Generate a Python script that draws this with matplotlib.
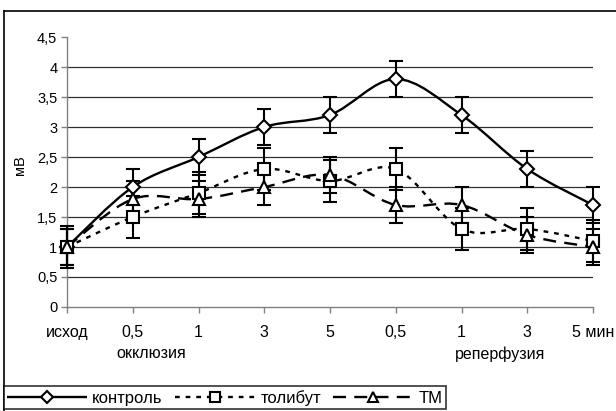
import numpy as np
import matplotlib.pyplot as plt
from matplotlib.path import Path
from matplotlib.patches import PathPatch
from matplotlib.lines import Line2D

plt.rcParams['font.family'] = ['Liberation Sans', 'DejaVu Sans']
plt.rcParams['font.size'] = 10.5

# данные
categories = ['исход', '0,5', '1', '3', '5', '0,5', '1', '3', '5 мин']
control = [1.0, 2.0, 2.5, 3.0, 3.2, 3.8, 3.2, 2.3, 1.7]
control_err = [0.3, 0.3, 0.3, 0.3, 0.3, 0.3, 0.3, 0.3, 0.3]
tolibut = [1.0, 1.5, 1.9, 2.3, 2.1, 2.3, 1.3, 1.3, 1.1]
tolibut_err = [0.35, 0.35, 0.35, 0.35, 0.35, 0.35, 0.35, 0.35, 0.35]
tm = [1.0, 1.8, 1.8, 2.0, 2.2, 1.7, 1.7, 1.2, 1.0]
tm_err = [0.3, 0.3, 0.3, 0.3, 0.3, 0.3, 0.3, 0.3, 0.3]
yticks = [0, 0.5, 1, 1.5, 2, 2.5, 3, 3.5, 4, 4.5]
ytick_labels = ['0', '0,5', '1', '1,5', '2', '2,5', '3', '3,5', '4', '4,5']


def smooth_path(x, y):
    # сглаженная линия как в Excel (кривые Безье)
    p = np.column_stack([x, y]).astype(float)
    n = len(p)
    verts = [p[0]]
    codes = [Path.MOVETO]
    for i in range(n - 1):
        p0 = p[i - 1] if i > 0 else p[i]
        p3 = p[i + 2] if i + 2 < n else p[i + 1]
        c1 = p[i] + (p[i + 1] - p0) / 6
        c2 = p[i + 1] - (p3 - p[i]) / 6
        verts += [c1, c2, p[i + 1]]
        codes += [Path.CURVE4] * 3
    return Path(verts, codes)


fig = plt.figure(figsize=(6.16, 4.11), dpi=100)
ax = fig.add_axes([67 / 616, 1 - 307 / 411, (593 - 67) / 616, 270 / 411])

x = np.arange(len(categories))
series = [
    (control, control_err, 'D', (0, ()), 7.5),
    (tolibut, tolibut_err, 's', (0, (2, 2.5)), 8),
    (tm, tm_err, '^', (0, (5.5, 3.5)), 8),
]
handles = []
for vals, err, mk, ls, ms in series:
    ax.add_patch(PathPatch(smooth_path(x, vals), fill=False, lw=1.7,
                           ls=ls, ec='black', zorder=3, clip_on=False))
    eb = ax.errorbar(x, vals, yerr=err, fmt='none', ecolor='black', elinewidth=1.5,
                     capsize=5, capthick=1.5, zorder=4)
    for art in eb.lines[1] + eb.lines[2]:
        art.set_clip_on(False)
    ax.plot(x, vals, ls='none', marker=mk, ms=ms, mfc='white', mec='black',
            mew=1.5, zorder=5, clip_on=False)
    handles.append(Line2D([], [], color='black', lw=1.7, ls=ls, marker=mk,
                          ms=ms - 1.5, mfc='white', mec='black', mew=1.5))

ax.set_xlim(0, 8)
ax.set_ylim(0, 4.5)
ax.set_yticks(yticks)
ax.set_yticklabels(ytick_labels)
ax.set_xticks(x)
ax.set_xticklabels(categories, fontsize=11.5)
for v in yticks[1:-1]:
    ax.axhline(v, color='#303030', lw=0.9, zorder=1)
for s in ['top', 'right']:
    ax.spines[s].set_visible(False)
for s in ['left', 'bottom']:
    ax.spines[s].set_color('#808080')
    ax.spines[s].set_linewidth(1)
ax.tick_params(axis='both', colors='#808080', labelcolor='black', length=4,
               width=1, pad=3)
ax.tick_params(axis='x', pad=9)

fig.text(20 / 616, 1 - 165 / 411, 'мВ', rotation=90, ha='center', va='center',
         fontsize=10.5)
fig.text(151 / 616, 1 - 354 / 411, 'окклюзия', ha='center', va='center',
         fontsize=11.5)
fig.text(500 / 616, 1 - 354 / 411, 'реперфузия', ha='center', va='center',
         fontsize=11.5)

# рамка диаграммы: верх и левый край
fig.add_artist(Line2D([4 / 616, 1.0], [1 - 11 / 411] * 2,
                      transform=fig.transFigure, color='black', lw=1.2))
fig.add_artist(Line2D([4 / 616] * 2, [1 - 11 / 411, 0],
                      transform=fig.transFigure, color='black', lw=1.2))

leg = fig.legend(handles, ['контроль', 'толибут', 'ТМ'], ncol=3,
                 loc='lower left', bbox_to_anchor=(4 / 616, 1 - 409 / 411),
                 frameon=True, fancybox=False, edgecolor='black',
                 fontsize=12, handlelength=4.8, handletextpad=0.3,
                 columnspacing=0.75, borderpad=0.2, borderaxespad=0)
leg.get_frame().set_linewidth(1.2)

fig.savefig('out.png', dpi=100)
